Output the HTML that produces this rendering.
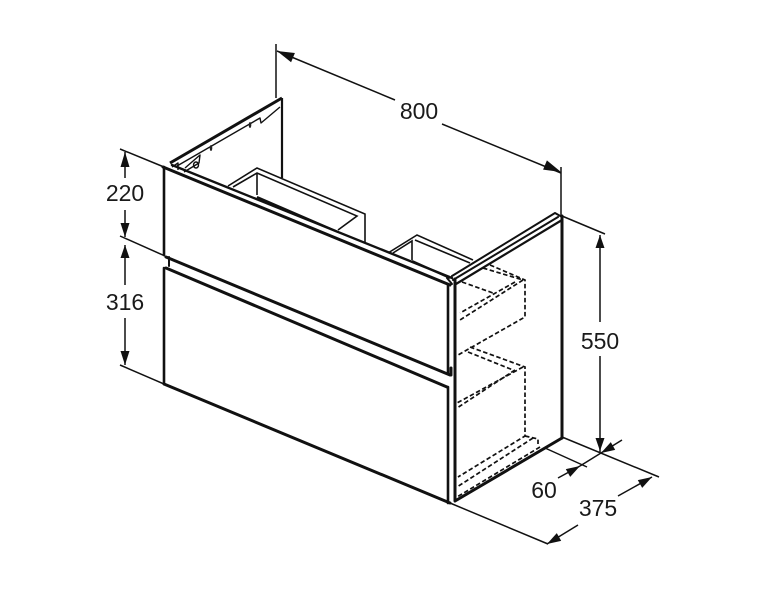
<!DOCTYPE html>
<html>
<head>
<meta charset="utf-8">
<style>
html,body{margin:0;padding:0;background:#fff;width:764px;height:600px;overflow:hidden}
svg{display:block}
text{font-family:"Liberation Sans",sans-serif;font-size:23px;fill:#1a1a1a;text-anchor:middle}
</style>
</head>
<body>
<svg width="764" height="600" viewBox="0 0 764 600" xmlns="http://www.w3.org/2000/svg">
<rect width="764" height="600" fill="#fff"/>

<!-- dashed hidden lines -->
<g fill="none" stroke="#111" stroke-width="1.7" stroke-dasharray="4.5 2.5">
<path d="M490 265L525 280V317L458 355"/>
<path d="M483 268L523 280"/>
<path d="M523 280L460 320"/>
<path d="M515 282L460 313"/>
<path d="M462 282L493 293"/>
<path d="M470 347L525 367V436L458 477"/>
<path d="M468 352L513 370"/>
<path d="M523 367L457 403"/>
<path d="M515 370L457 408"/>
<path d="M525 436L538 439V444"/>
<path d="M533 438L457 487"/>
<path d="M540 447L457 497"/>
</g>

<!-- inner boxes -->
<g fill="none" stroke="#111" stroke-width="1.6">
<path d="M228 186L257 168L365 214V242"/>
<path d="M233 187L257 173L357 216L338 230"/>
<path d="M257 173V195"/>
<path d="M388 253L417 235L473 260"/>
<path d="M393 253L412 241V260"/>
<path d="M415 240L470 263"/>
</g>
<g fill="none" stroke="#111" stroke-width="2.2">
<path d="M257 197L338 232"/>
<path d="M412 261L450 278"/>
</g>

<!-- back panel -->
<g fill="none" stroke="#111" stroke-linejoin="round">
<path d="M170 163L282 98" stroke-width="3"/>
<path d="M282 98V178" stroke-width="2.2"/>
<path d="M177 166L260 118L261 123L280 107" stroke-width="1.4"/>
<path d="M172 167L178 163V170" stroke-width="1.4"/>
<path d="M185 168L200 155L199 163L184 172" stroke-width="1.4"/>
</g>
<ellipse cx="196" cy="165" rx="2.5" ry="3" fill="none" stroke="#111" stroke-width="1.4"/>
<ellipse cx="211" cy="148" rx="1.3" ry="3" fill="#222"/>
<ellipse cx="250" cy="125" rx="1.3" ry="3" fill="#222"/>

<!-- cabinet front -->
<g fill="none" stroke="#111" stroke-linejoin="round" stroke-linecap="round">
<path d="M172 165L452 278" stroke-width="2.4"/>
<path d="M163 167L450 285" stroke-width="3"/>
<path d="M164 167V255" stroke-width="2.6"/>
<path d="M169 257V266" stroke-width="2"/>
<path d="M166 257L450 375" stroke-width="3"/>
<path d="M166 268L447 387" stroke-width="3"/>
<path d="M164 268V384" stroke-width="2.6"/>
<path d="M164 384L450 503" stroke-width="3"/>
<path d="M448 285V374" stroke-width="2.6"/>
<path d="M448 387V503" stroke-width="2.6"/>
<path d="M455 279V500" stroke-width="3"/>
<path d="M451 368V375" stroke-width="3"/>
<path d="M447 278L452 284" stroke-width="2"/>
<!-- side panel -->
<path d="M452 276L555 213L562 217" stroke-width="2"/>
<path d="M453 280L558 217" stroke-width="2"/>
<path d="M456 284L562 220" stroke-width="2.2"/>
<path d="M562 216V438" stroke-width="3"/>
<path d="M455 501L562 438" stroke-width="3"/>
</g>

<!-- dimension lines -->
<g fill="none" stroke="#111" stroke-width="1.5">
<path d="M276 44V98"/>
<path d="M561 167V216"/>
<path d="M277 51L395 100"/>
<path d="M442 124L561 173"/>
<path d="M120 149L164 167"/>
<path d="M120 236L165 256"/>
<path d="M120 365L164 384"/>
<path d="M125 152V178"/>
<path d="M125 210V237"/>
<path d="M125 245V285"/>
<path d="M125 318V365"/>
<path d="M562 216L605 234"/>
<path d="M600 235V322"/>
<path d="M600 356V452"/>
<path d="M562 437L659 477"/>
<path d="M545 448L587 467"/>
<path d="M450 503L548 544"/>
<path d="M558 478L580 466"/>
<path d="M580 466L601 453"/>
<path d="M601 453L622 440"/>
<path d="M547 544L578 525"/>
<path d="M618 496L652 477"/>
</g>

<!-- arrowheads -->
<g fill="#111" stroke="none">
<path d="M277 51L294.9 53L291.1 62.2Z"/>
<path d="M561 172L546.9 160.4L543.1 169.6Z"/>
<path d="M125 152L120.5 167H129.5Z"/>
<path d="M125 237L120.5 223H129.5Z"/>
<path d="M125 245L120.5 258H129.5Z"/>
<path d="M125 365L120.5 351H129.5Z"/>
<path d="M600 235L595.5 248H604.5Z"/>
<path d="M600 451L595.5 438H604.5Z"/>
<path d="M580 466L565.8 469.1L570.2 476.9Z"/>
<path d="M601 453L610.8 442.1L615.2 449.9Z"/>
<path d="M547 544L556.8 533.1L561.2 540.9Z"/>
<path d="M652 477L637.8 480.1L642.2 487.9Z"/>
</g>

<!-- labels -->
<text x="419" y="119">800</text>
<text x="125" y="201">220</text>
<text x="125" y="310">316</text>
<text x="600" y="349">550</text>
<text x="544" y="498">60</text>
<text x="598" y="516">375</text>
</svg>
</body>
</html>
